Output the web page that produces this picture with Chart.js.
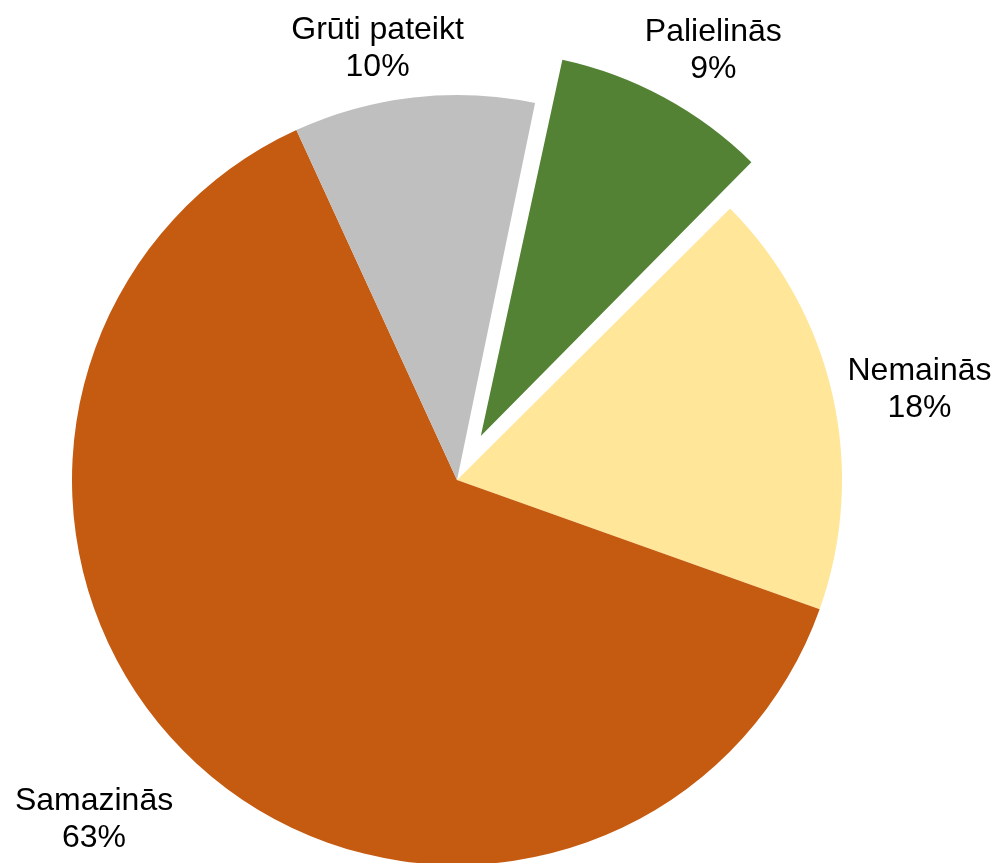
<!DOCTYPE html>
<html>
<head>
<meta charset="utf-8">
<script src="https://cdn.jsdelivr.net/npm/chart.js@4/dist/chart.umd.min.js"></script>
<style>
  html, body { margin: 0; padding: 0; background: #fff; }
  #wrap { width: 995px; height: 863px; }
</style>
</head>
<body>
<div id="wrap"><canvas id="chart"></canvas></div>
<script>
// slices, clockwise from the green one
const labels = ["Palielinās", "Nemainās", "Samazinās", "Grūti pateikt"]
const values = [9.3, 17.9, 62.7, 10.1]
const colors = ["#548235", "#FFE699", "#C55A11", "#BFBFBF"]
const exploded = [50, 0, 0, 0]

const FONT = "32px 'Liberation Sans', Arial, sans-serif"
const LINE = 37
// small hand nudges so the labels sit where Excel's "best fit" put them
const labelNudge = [[7, 3], [-3, 6], [-36, 14], [-24, 8]]

// keep the exploded slice the same radius as the rest
const keepRadius = {
  id: "keepRadius",
  afterDatasetsUpdate(chart) {
    chart.getDatasetMeta(0).data.forEach((arc) => {
      const off = arc.options.offset / 4
      if (!off) return
      const circ = arc.endAngle - arc.startAngle
      const fix = 1 - Math.sin(Math.min(Math.PI, circ))
      arc.outerRadius = arc.outerRadius - off * fix
    })
  },
}

const outsideLabels = {
  id: "outsideLabels",
  afterDraw(chart) {
    const ctx = chart.ctx
    const meta = chart.getDatasetMeta(0)
    const total = values.reduce((a, b) => a + b, 0)
    ctx.save()
    ctx.font = FONT
    ctx.fillStyle = "#000"
    ctx.textAlign = "center"
    ctx.textBaseline = "middle"
    meta.data.forEach((arc, i) => {
      const mid = (arc.startAngle + arc.endAngle) / 2
      const off = arc.options.offset / 4
      const cx = arc.x + Math.cos(mid) * off
      const cy = arc.y + Math.sin(mid) * off
      const R = 385 + 20
      const px = cx + Math.cos(mid) * R
      const py = cy + Math.sin(mid) * R
      const lines = [labels[i], Math.round((values[i] / total) * 100) + "%"]
      const w = Math.max(...lines.map((t) => ctx.measureText(t).width))
      const h = LINE * lines.length
      const bx = px + Math.cos(mid) * w / 2 + labelNudge[i][0]
      const by = py + Math.sin(mid) * h / 2 + labelNudge[i][1]
      lines.forEach((t, k) => {
        ctx.fillText(t, bx, by - h / 2 + LINE * (k + 0.5))
      })
    })
    ctx.restore()
  },
}

new Chart(document.getElementById("chart"), {
  type: "pie",
  data: {
    labels: labels,
    datasets: [
      {
        data: values,
        backgroundColor: colors,
        borderWidth: 0,
        offset: exploded.map((d) => d * 4),
      },
    ],
  },
  options: {
    responsive: true,
    maintainAspectRatio: false,
    animation: false,
    rotation: 11.7,
    radius: 385,
    layout: { padding: { left: 0, right: 81, top: 97, bottom: 0 } },
    plugins: {
      legend: { display: false },
      tooltip: { enabled: false },
    },
  },
  plugins: [keepRadius, outsideLabels],
})
</script>
</body>
</html>
